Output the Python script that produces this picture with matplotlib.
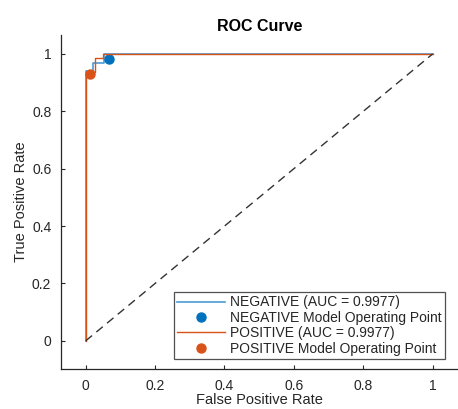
import matplotlib
matplotlib.use("Agg")
import matplotlib.pyplot as plt

plt.rcParams['font.family'] = ['Liberation Sans', 'DejaVu Sans']

neg_fpr = [0, 0, 0.020, 0.020, 0.054, 0.054, 1]
neg_tpr = [0, 0.942, 0.942, 0.970, 0.970, 1, 1]
pos_fpr = [0, 0, 0.027, 0.027, 0.050, 0.050, 1]
pos_tpr = [0, 0.936, 0.936, 0.985, 0.985, 1, 1]
neg_op = (0.068, 0.983)
pos_op = (0.012, 0.931)
neg_auc = 0.9977
pos_auc = 0.9977
ticks = [0, 0.2, 0.4, 0.6, 0.8, 1]
tick_labels = ['0', '0.2', '0.4', '0.6', '0.8', '1']

blue_line = '#4a9bd6'
blue_dot = '#0072BD'
orange = '#D95319'
txt = '#262626'

fig = plt.figure(figsize=(4.58, 4.09), dpi=100)
ax = fig.add_axes([61/458, 40/409, 397/458, 334/409])

ax.plot(neg_fpr, neg_tpr, color=blue_line, lw=1.2,
        label=f'NEGATIVE (AUC = {neg_auc:.4f})')
ax.plot(neg_op[0], neg_op[1], 'o', color=blue_dot, ms=6.5,
        label='NEGATIVE Model Operating Point')
ax.plot(pos_fpr, pos_tpr, color=orange, lw=1.0,
        label=f'POSITIVE (AUC = {pos_auc:.4f})')
ax.plot(pos_op[0], pos_op[1], 'o', color=orange, ms=6.5,
        label='POSITIVE Model Operating Point')
ax.plot([0, 1], [0, 1], color='#333333', lw=1.0, dashes=(6, 4))

ax.set_xlim(-0.071, 1.073)
ax.set_ylim(-0.098, 1.066)
ax.set_xticks(ticks)
ax.set_xticklabels(tick_labels)
ax.set_yticks(ticks)
ax.set_yticklabels(tick_labels)
ax.tick_params(direction='in', length=3, width=0.8, colors=txt,
               labelsize=10)
ax.tick_params(axis='x', pad=7)
ax.tick_params(axis='y', pad=7)
for s in ['top', 'right']:
    ax.spines[s].set_visible(False)
for s in ['left', 'bottom']:
    ax.spines[s].set_color(txt)
    ax.spines[s].set_linewidth(0.9)

ax.set_xlabel('False Positive Rate', fontsize=10.5, color=txt, labelpad=0)
ax.set_ylabel('True Positive Rate', fontsize=10.5, color=txt, labelpad=3)
ax.set_title('ROC Curve', fontsize=11.5, fontweight='bold', color='black', pad=3)

leg = ax.legend(loc='upper left', bbox_to_anchor=(174/458, 1 - 292/409),
                bbox_transform=fig.transFigure, fontsize=10,
                frameon=True, fancybox=False, edgecolor=txt,
                handlelength=3.4, handletextpad=0.35, labelspacing=0.1,
                borderpad=0.25, borderaxespad=0, numpoints=1)
leg.get_frame().set_linewidth(0.9)
for t in leg.get_texts():
    t.set_color(txt)

fig.savefig('out.png', dpi=100)
